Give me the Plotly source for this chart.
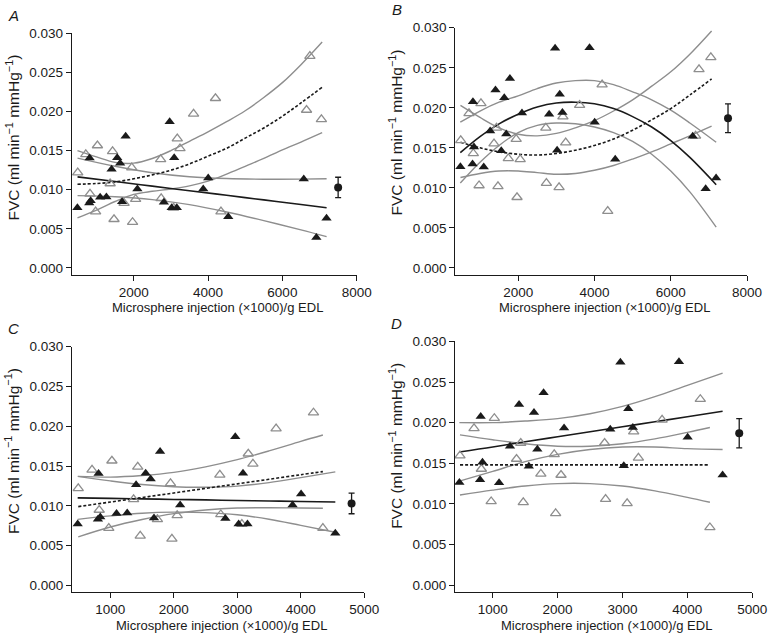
import plotly.graph_objects as go

# ---------------- data ----------------
# x positions shared by panels A/B (and the subset x<5000 in C/D)
open_x = [495, 712, 825, 1025, 976, 1432, 1367, 1471, 1948, 1970, 2053, 1742,
          2725, 2740, 3173, 3246, 3611, 4200, 4348, 3072, 6740, 6650, 7050]
open_y_a = [0.0122, 0.01452, 0.00947, 0.01566, 0.0072, 0.0149, 0.0108, 0.00623,
            0.01283, 0.00585, 0.00879, 0.0083, 0.01389, 0.00891, 0.01654, 0.01528,
            0.0197, 0.0217, 0.0072, 0.0077, 0.0271, 0.0202, 0.0190]
open_y_b = [0.01594, 0.0193, 0.0143, 0.02055, 0.0103, 0.0175, 0.01553, 0.0102,
            0.0161, 0.00883, 0.01356, 0.01369, 0.0175, 0.0106, 0.0189, 0.01566,
            0.02034, 0.02289, 0.0071, 0.01006, 0.0248, 0.0165, 0.0263]

filled_x = [486, 815, 805, 842, 1098, 1266, 1406, 1557, 1636, 1784, 1688, 2100,
            2968, 2812, 3090, 3021, 3160, 3871, 4005, 4544, 6575, 6914, 7188]
filled_y_a = [0.0077, 0.01405, 0.0083, 0.0086, 0.00904, 0.00908, 0.01263, 0.01409,
              0.01338, 0.01683, 0.00846, 0.0101, 0.01869, 0.0084, 0.01409, 0.0077,
              0.0077, 0.0101, 0.01149, 0.00656, 0.01136, 0.0039, 0.00635]
filled_y_b = [0.01265, 0.02075, 0.01298, 0.01512, 0.01261, 0.01709, 0.02223, 0.01463,
              0.02125, 0.02367, 0.01672, 0.01935, 0.02745, 0.01919, 0.0217, 0.01471,
              0.0194, 0.02749, 0.0182, 0.01356, 0.01644, 0.0099, 0.01122]

cd_x_limit = 5000  # panels C and D show the points below this x

mean_x_ab = 7500
mean_x_cd = 4800
mean_y_a, mean_err_a = 0.0103, 0.0013
mean_y_b, mean_err_b = 0.0187, 0.0018

# fitted curves and 95% bands
a_open_fit_x = [488, 1000, 1500, 2000, 2500, 3000, 3500, 4000, 4500, 5000, 5500, 6000, 6500, 7070]
a_open_fit = [0.0107, 0.0108, 0.0110, 0.0114, 0.0119, 0.0125, 0.0133, 0.0143, 0.0153, 0.0166, 0.0179, 0.0194, 0.0211, 0.0231]
a_open_hi = [0.0150, 0.0142, 0.0135, 0.0134, 0.0140, 0.0150, 0.0162, 0.0174, 0.0187, 0.0201, 0.0218, 0.0237, 0.0260, 0.0289]
a_open_lo = [0.0064, 0.0074, 0.0085, 0.0094, 0.0098, 0.0101, 0.0105, 0.0111, 0.0120, 0.0130, 0.0140, 0.0151, 0.0161, 0.0173]
a_fill_fit_x = [490, 1500, 2500, 3500, 4500, 5500, 6500, 7190]
a_fill_fit = [0.01165, 0.01105, 0.01046, 0.00988, 0.00929, 0.00870, 0.00811, 0.0077]
a_fill_hi = [0.01405, 0.0130, 0.01218, 0.01167, 0.01143, 0.01135, 0.01136, 0.0114]
a_fill_lo = [0.00925, 0.0091, 0.00874, 0.00809, 0.00715, 0.00605, 0.00486, 0.0040]

b_fill_fit_x = [484, 1000, 1500, 2000, 2500, 3000, 3500, 4000, 4500, 5000, 5500, 6000, 6500, 7190]
b_fill_fit = [0.0144, 0.0164, 0.0180, 0.0192, 0.0201, 0.0206, 0.0207, 0.0205, 0.0199, 0.0189, 0.0176, 0.0159, 0.0138, 0.0104]
b_fill_hi = [0.0182, 0.0196, 0.0207, 0.0215, 0.0224, 0.0231, 0.0234, 0.0234, 0.0229, 0.0220, 0.0210, 0.0197, 0.0181, 0.0157]
b_fill_lo = [0.0106, 0.0132, 0.0153, 0.0169, 0.0178, 0.0181, 0.0180, 0.0176, 0.0169, 0.0158, 0.0142, 0.0121, 0.0095, 0.0051]
b_open_fit_x = [488, 1000, 1500, 2000, 2500, 3000, 3500, 4000, 4500, 5000, 5500, 6000, 6500, 7070]
b_open_fit = [0.0157, 0.0150, 0.0145, 0.0142, 0.0141, 0.0143, 0.0147, 0.0153, 0.0161, 0.0172, 0.0185, 0.0199, 0.0216, 0.0236]
b_open_hi = [0.0203, 0.0188, 0.0175, 0.0167, 0.0165, 0.0168, 0.0175, 0.0184, 0.0196, 0.0210, 0.0227, 0.0245, 0.0267, 0.0296]
b_open_lo = [0.0113, 0.0118, 0.0121, 0.0121, 0.0119, 0.0117, 0.0118, 0.0122, 0.0128, 0.0136, 0.0145, 0.0155, 0.0165, 0.0177]

c_fill_fit_x = [486, 1000, 1500, 2000, 2500, 3000, 3500, 4000, 4544]
c_fill_fit = [0.0110, 0.01093, 0.01087, 0.0108, 0.01074, 0.01067, 0.01061, 0.01054, 0.01047]
c_fill_hi = [0.0137, 0.01313, 0.01267, 0.0124, 0.01234, 0.01247, 0.01291, 0.01354, 0.01427]
c_fill_lo = [0.0083, 0.00873, 0.00907, 0.0092, 0.00914, 0.00887, 0.00831, 0.00754, 0.00667]
c_open_fit_x = [495, 1000, 1500, 2000, 2500, 3000, 3500, 4000, 4348]
c_open_fit = [0.0099, 0.01047, 0.01104, 0.01161, 0.01219, 0.01276, 0.01333, 0.01391, 0.0143]
c_open_hi = [0.0137, 0.0136, 0.0138, 0.0142, 0.0149, 0.0158, 0.0169, 0.0181, 0.0189]
c_open_lo = [0.0061, 0.00734, 0.00828, 0.00902, 0.00948, 0.00972, 0.00976, 0.00972, 0.0097]

d_fill_fit_x = [486, 1000, 1500, 2000, 2500, 3000, 3500, 4000, 4544]
d_fill_fit = [0.0164, 0.0170, 0.01765, 0.01827, 0.01888, 0.0195, 0.02011, 0.02073, 0.0214]
d_fill_hi = [0.0200, 0.0200, 0.0202, 0.0205, 0.0211, 0.0220, 0.0232, 0.0246, 0.0261]
d_fill_lo = [0.0128, 0.0140, 0.0152, 0.0161, 0.0167, 0.0170, 0.0170, 0.0168, 0.0167]
d_open_fit_x = [495, 1000, 1500, 2000, 2500, 3000, 3500, 4000, 4348]
d_open_fit = [0.0148, 0.0148, 0.0148, 0.0148, 0.0148, 0.0148, 0.0148, 0.0148, 0.0148]
d_open_hi = [0.0185, 0.0179, 0.0174, 0.0171, 0.0171, 0.0174, 0.0180, 0.0188, 0.0194]
d_open_lo = [0.0111, 0.0117, 0.0122, 0.0125, 0.0125, 0.0122, 0.0116, 0.0108, 0.0102]

y_ticks = [0.000, 0.005, 0.010, 0.015, 0.020, 0.025, 0.030]
x_ticks_ab = [2000, 4000, 6000, 8000]
x_ticks_cd = [1000, 2000, 3000, 4000, 5000]

x_title = "Microsphere injection (×1000)/g EDL"
y_title = "FVC (ml min<sup>−1</sup> mmHg<sup>−1</sup>)"

# ---------------- styling ----------------
W, H = 782, 636
FONT = "Liberation Sans, Arial, sans-serif"
INK = "#1a1a1a"
GREY = "#8e8e8e"

fig = go.Figure()


def subset(xs, ys, limit):
    px, py = [], []
    for a, b in zip(xs, ys):
        if a < limit:
            px.append(a)
            py.append(b)
    return px, py


def add_panel(idx, ox, oy, fx, fy, curves, mx, my, merr):
    xa = "x" if idx == 1 else f"x{idx}"
    ya = "y" if idx == 1 else f"y{idx}"
    (ofx, of, ohi, olo, ffx, ff, fhi, flo) = curves
    for cx, cy in [(ofx, ohi), (ofx, olo), (ffx, fhi), (ffx, flo)]:
        fig.add_trace(go.Scatter(x=cx, y=cy, mode="lines", xaxis=xa, yaxis=ya,
                                 line=dict(color=GREY, width=1.4, shape="spline"),
                                 showlegend=False, hoverinfo="skip"))
    fig.add_trace(go.Scatter(x=ofx, y=of, mode="lines", xaxis=xa, yaxis=ya,
                             line=dict(color=INK, width=1.6, dash="3px,2px", shape="spline"),
                             showlegend=False))
    fig.add_trace(go.Scatter(x=ffx, y=ff, mode="lines", xaxis=xa, yaxis=ya,
                             line=dict(color=INK, width=1.6, shape="spline"),
                             showlegend=False))
    fig.add_trace(go.Scatter(x=ox, y=oy, mode="markers", xaxis=xa, yaxis=ya,
                             marker=dict(symbol="triangle-up-open", size=9,
                                         color=GREY, line=dict(width=1.3, color=GREY)),
                             showlegend=False, cliponaxis=False))
    fig.add_trace(go.Scatter(x=fx, y=fy, mode="markers", xaxis=xa, yaxis=ya,
                             marker=dict(symbol="triangle-up", size=9, color=INK),
                             showlegend=False, cliponaxis=False))
    fig.add_trace(go.Scatter(x=[mx], y=[my], mode="markers", xaxis=xa, yaxis=ya,
                             marker=dict(symbol="circle", size=8, color=INK),
                             error_y=dict(type="constant", value=merr, color=INK,
                                          thickness=1.3, width=3),
                             showlegend=False, cliponaxis=False))


ocx, ocy_a = subset(open_x, open_y_a, cd_x_limit)
_, ocy_b = subset(open_x, open_y_b, cd_x_limit)
fcx, fcy_a = subset(filled_x, filled_y_a, cd_x_limit)
_, fcy_b = subset(filled_x, filled_y_b, cd_x_limit)

add_panel(1, open_x, open_y_a, filled_x, filled_y_a,
          (a_open_fit_x, a_open_fit, a_open_hi, a_open_lo,
           a_fill_fit_x, a_fill_fit, a_fill_hi, a_fill_lo),
          mean_x_ab, mean_y_a, mean_err_a)
add_panel(2, open_x, open_y_b, filled_x, filled_y_b,
          (b_open_fit_x, b_open_fit, b_open_hi, b_open_lo,
           b_fill_fit_x, b_fill_fit, b_fill_hi, b_fill_lo),
          mean_x_ab, mean_y_b, mean_err_b)
add_panel(3, ocx, ocy_a, fcx, fcy_a,
          (c_open_fit_x, c_open_fit, c_open_hi, c_open_lo,
           c_fill_fit_x, c_fill_fit, c_fill_hi, c_fill_lo),
          mean_x_cd, mean_y_a, mean_err_a)
add_panel(4, ocx, ocy_b, fcx, fcy_b,
          (d_open_fit_x, d_open_fit, d_open_hi, d_open_lo,
           d_fill_fit_x, d_fill_fit, d_fill_hi, d_fill_lo),
          mean_x_cd, mean_y_b, mean_err_b)

# panel geometry in pixels: (left, right, top, bottom), x-range
panels = {
    1: dict(px=(73.3, 363.7), py=(26.7, 271.0), xr=[338, 8000], ticks=x_ticks_ab, letter="A", tgap=33),
    2: dict(px=(464.3, 761.7), py=(21.0, 271.0), xr=[355, 8000], ticks=x_ticks_ab, letter="B", tgap=33),
    3: dict(px=(73.5, 371.4), py=(344.0, 592.5), xr=[398, 5000], ticks=x_ticks_cd, letter="C", tgap=33.5),
    4: dict(px=(464.0, 766.9), py=(338.7, 592.5), xr=[420, 5000], ticks=x_ticks_cd, letter="D", tgap=33.5),
}
y_bottom = {1: -0.00085, 2: -0.00083, 3: -0.00084, 4: -0.00085}

axis_common = dict(showgrid=False, zeroline=False, showline=True, linecolor=INK,
                   linewidth=1.3, ticks="outside", ticklen=5, tickwidth=1.3,
                   tickcolor=INK, tickfont=dict(family=FONT, size=13.5, color=INK))

layout = dict(width=W, height=H, margin=dict(l=0, r=0, t=0, b=0),
              paper_bgcolor="white", plot_bgcolor="white",
              font=dict(family=FONT, size=13, color=INK), annotations=[])

for i, p in panels.items():
    xk = "xaxis" if i == 1 else f"xaxis{i}"
    yk = "yaxis" if i == 1 else f"yaxis{i}"
    ya = "y" if i == 1 else f"y{i}"
    xa = "x" if i == 1 else f"x{i}"
    layout[xk] = dict(axis_common, domain=[p["px"][0] / W, p["px"][1] / W],
                      range=p["xr"], tickvals=p["ticks"],
                      ticktext=[str(t) for t in p["ticks"]], anchor=ya)
    layout[yk] = dict(axis_common, domain=[1 - p["py"][1] / H, 1 - p["py"][0] / H],
                      range=[y_bottom[i], 0.030], tickvals=y_ticks,
                      ticktext=[f"{t:.3f}" for t in y_ticks], anchor=xa)
    cx = (p["px"][0] + p["px"][1]) / 2
    layout["annotations"].append(dict(
        text=x_title, x=(cx + 3) / W, y=1 - (p["py"][1] + p["tgap"]) / H,
        xref="paper", yref="paper", showarrow=False,
        font=dict(family=FONT, size=13, color=INK), xanchor="center", yanchor="middle"))
    layout["annotations"].append(dict(
        text=y_title, x=(p["px"][0] - 60.5) / W, y=1 - (p["py"][0] + 106) / H,
        xref="paper", yref="paper", showarrow=False, textangle=-90,
        font=dict(family=FONT, size=15.5, color=INK), xanchor="center", yanchor="middle"))
    layout["annotations"].append(dict(
        text=f"<i>{p['letter']}</i>", x=(p["px"][0] - 67) / W, y=1 - (p["py"][0] - 18) / H,
        xref="paper", yref="paper", showarrow=False,
        font=dict(family=FONT, size=15, color=INK), xanchor="left", yanchor="middle"))

fig.update_layout(**layout)
fig.write_html("out.html", config={"displayModeBar": False},
               post_script="document.body.style.margin='0px';document.body.style.overflow='hidden';")
